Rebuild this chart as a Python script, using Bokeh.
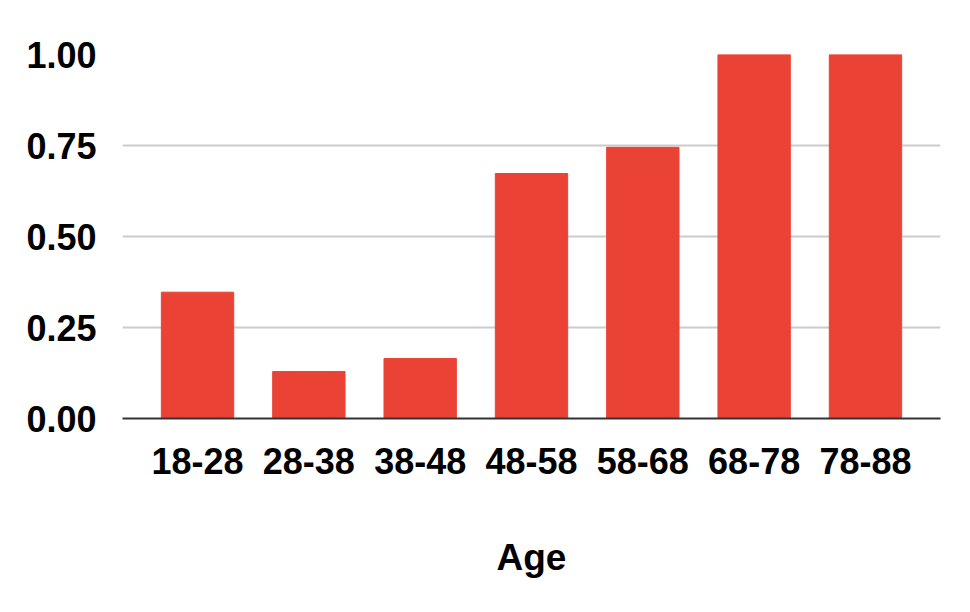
from bokeh.plotting import figure
from bokeh.models import FixedTicker, Range1d
from bokeh.embed import file_html
from bokeh.resources import INLINE

categories = ["18-28", "28-38", "38-48", "48-58", "58-68", "68-78", "78-88"]
values = [0.347, 0.129, 0.165, 0.673, 0.745, 1.0, 1.0]
y_ticks = [0.0, 0.25, 0.5, 0.75, 1.0]
y_tick_labels = ["0.00", "0.25", "0.50", "0.75", "1.00"]
x_label = "Age"

xs = list(range(len(categories)))

p = figure(width=962, height=604, output_backend="svg", toolbar_location=None,
           x_range=Range1d(-0.674, len(categories) - 1 + 0.674),
           y_range=Range1d(0, 1.0),
           min_border_left=122, min_border_right=22, min_border_top=54, min_border_bottom=186)
p.outline_line_color = None

p.vbar(x=xs, top=values, width=0.65, color="#EA4335")

FONT = "Liberation Sans"
p.xaxis.ticker = FixedTicker(ticks=xs)
p.xaxis.major_label_overrides = {i: c for i, c in enumerate(categories)}
p.yaxis.ticker = FixedTicker(ticks=y_ticks)
p.yaxis.major_label_overrides = {t: l for t, l in zip(y_ticks, y_tick_labels)}

for ax in (p.xaxis, p.yaxis):
    ax.major_tick_line_color = None
    ax.minor_tick_line_color = None
    ax.major_label_text_font = FONT
    ax.major_label_text_font_style = "bold"
    ax.major_label_text_font_size = "36px"
    ax.major_label_text_color = "#000000"

p.yaxis.axis_line_color = None
p.yaxis.major_label_standoff = 20
p.xaxis.axis_line_color = "#333333"
p.xaxis.axis_line_width = 2
p.xaxis.major_label_standoff = 23
p.xaxis.axis_label = x_label
p.xaxis.axis_label_text_font = FONT
p.xaxis.axis_label_text_font_style = "bold"
p.xaxis.axis_label_text_font_size = "37px"
p.xaxis.axis_label_text_color = "#000000"
p.xaxis.axis_label_standoff = 60

p.xgrid.grid_line_color = None
p.ygrid.grid_line_color = "#cccccc"
p.ygrid.grid_line_width = 2

open("out.html", "w").write(file_html(p, INLINE))
